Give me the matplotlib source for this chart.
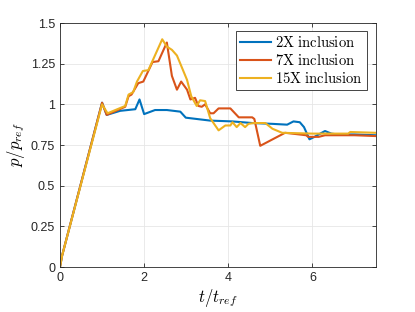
import matplotlib
matplotlib.use("Agg")
import matplotlib.pyplot as plt

plt.rcParams['mathtext.fontset'] = 'cm'
plt.rcParams['font.family'] = ['Liberation Sans', 'DejaVu Sans']

series_labels = ['2X inclusion', '7X inclusion', '15X inclusion']
colors = ['#0072BD', '#D95319', '#EDB120']

x_2x = [0, 0.05, 1.0, 1.11, 1.43, 1.79, 1.89, 2.0, 2.26, 2.54, 2.86, 2.99, 3.57, 4.1,
        4.57, 5.05, 5.4, 5.55, 5.7, 5.8, 5.93, 6.05, 6.15, 6.3, 6.45, 6.6, 7.0, 7.5]
y_2x = [0, 0.07, 1.01, 0.935, 0.96, 0.97, 1.03, 0.94, 0.965, 0.965, 0.955, 0.918, 0.9, 0.895,
        0.885, 0.88, 0.875, 0.895, 0.89, 0.86, 0.785, 0.8, 0.815, 0.836, 0.82, 0.815, 0.815, 0.81]

x_7x = [0, 0.05, 1.0, 1.11, 1.55, 1.63, 1.7, 1.86, 1.98, 2.2, 2.34, 2.54, 2.66, 2.78, 2.88,
        3.02, 3.1, 3.21, 3.29, 3.37, 3.45, 3.57, 3.65, 3.77, 4.05, 4.25, 4.57, 4.62, 4.76,
        5.35, 5.85, 5.9, 6.15, 6.3, 7.0, 7.5]
y_7x = [0, 0.07, 1.01, 0.935, 0.985, 1.05, 1.06, 1.13, 1.14, 1.26, 1.265, 1.38, 1.175, 1.09, 1.14,
        1.09, 1.03, 1.04, 0.99, 0.985, 1.0, 0.945, 0.945, 0.975, 0.975, 0.92, 0.92, 0.91, 0.745,
        0.825, 0.81, 0.8, 0.8, 0.81, 0.81, 0.805]

x_15x = [0, 0.05, 1.0, 1.13, 1.55, 1.63, 1.74, 1.83, 1.97, 2.1, 2.43, 2.54, 2.66, 2.78, 3.02,
         3.12, 3.25, 3.33, 3.45, 3.57, 3.77, 3.93, 4.05, 4.1, 4.2, 4.29, 4.4, 4.48, 4.6, 4.88,
         5.05, 5.28, 6.0, 6.85, 6.9, 7.5]
y_15x = [0, 0.07, 1.0, 0.945, 0.99, 1.06, 1.075, 1.14, 1.205, 1.21, 1.40, 1.355, 1.335, 1.30, 1.15,
         1.05, 0.99, 1.025, 1.02, 0.915, 0.84, 0.87, 0.87, 0.89, 0.86, 0.885, 0.86, 0.88, 0.885, 0.885,
         0.85, 0.825, 0.82, 0.82, 0.83, 0.825]

x_ticks = [0, 2, 4, 6]
y_ticks = [0, 0.25, 0.5, 0.75, 1, 1.25, 1.5]
y_tick_labels = ['0', '0.25', '0.5', '0.75', '1', '1.25', '1.5']

fig = plt.figure(figsize=(4.15, 3.12), dpi=100)
ax = fig.add_axes([60/415, 45/312, 315.5/415, 244/312])

for xs, ys, lab, c in zip([x_2x, x_7x, x_15x], [y_2x, y_7x, y_15x], series_labels, colors):
    ax.plot(xs, ys, color=c, lw=1.5, label=r'$\mathrm{' + lab.replace(' ', r'\ ') + '}$')

ax.set_xlim(0, 7.5)
ax.set_ylim(0, 1.5)
ax.set_xticks(x_ticks)
ax.set_yticks(y_ticks)
ax.set_yticklabels(y_tick_labels)
ax.grid(True, color='#e6e6e6', lw=0.6)
ax.set_axisbelow(True)
ax.tick_params(direction='in', top=True, right=True, labelsize=9, colors='#262626',
               length=3, width=0.6)
for s in ax.spines.values():
    s.set_color('#262626')
    s.set_linewidth(0.6)

ax.set_xlabel(r'$t/t_{ref}$', fontsize=12, labelpad=2)
ax.set_ylabel(r'$p/p_{ref}$', fontsize=12, labelpad=3)

leg = ax.legend(loc='upper right', bbox_to_anchor=(0.973, 0.968), borderaxespad=0,
                fontsize=10.5, handlelength=2.1, handletextpad=0.3, labelspacing=0.2,
                borderpad=0.3, fancybox=False, framealpha=1, edgecolor='#262626')
leg.get_frame().set_linewidth(0.6)

fig.savefig('out.png', dpi=100)
